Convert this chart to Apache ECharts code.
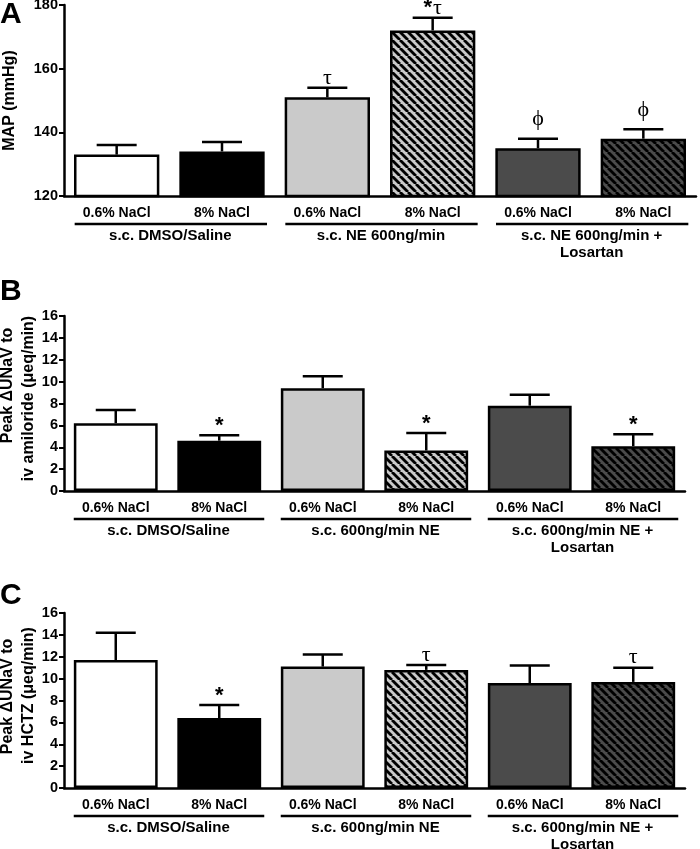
<!DOCTYPE html>
<html><head><meta charset="utf-8">
<script src="https://cdn.jsdelivr.net/npm/echarts@6/dist/echarts.min.js"></script>
<style>html,body{margin:0;padding:0;background:#fff}#c{width:700px;height:849px}</style>
</head><body><div id="c"></div>
<script>
// ---------- data ----------
const categories = ['0.6% NaCl', '8% NaCl', '0.6% NaCl', '8% NaCl', '0.6% NaCl', '8% NaCl'];
const groupsA = ['s.c. DMSO/Saline', 's.c. NE 600ng/min', 's.c. NE 600ng/min +\nLosartan'];
const groupsBC = ['s.c. DMSO/Saline', 's.c. 600ng/min NE', 's.c. 600ng/min NE +\nLosartan'];

const meanA = [133, 134, 151, 172, 135, 138];
const semA = [3, 3, 3, 4, 3, 3];
const markA = ['', '', 'τ', '*τ', 'ϕ', 'ϕ'];

const meanB = [6.2, 4.6, 9.4, 3.7, 7.8, 4.1];
const semB = [1.2, 0.5, 1.1, 1.6, 1.0, 1.1];
const markB = ['', '*', '', '*', '', '*'];

const meanC = [11.7, 6.4, 11.1, 10.8, 9.6, 9.7];
const semC = [2.5, 1.2, 1.1, 0.45, 1.6, 1.3];
const markC = ['', '*', '', 'τ', '', 'τ'];

const ticksA = [120, 140, 160, 180];
const ticksBC = [0, 2, 4, 6, 8, 10, 12, 14, 16];

const titleA = ['MAP (mmHg)'];
const titleB = ['Peak \u0394UNaV to', 'iv amiloride (\u03bceq/min)'];
const titleC = ['Peak \u0394UNaV to', 'iv HCTZ (\u03bceq/min)'];
const letters = ['A', 'B', 'C'];

// ---------- styles ----------
const FONT = 'Liberation Sans, Arial, sans-serif';
const SERIF = 'Liberation Serif, Times New Roman, serif';

function hatch(bg) {
  const s = 8;
  const c = document.createElement('canvas');
  c.width = s; c.height = s;
  const g = c.getContext('2d');
  g.fillStyle = bg; g.fillRect(0, 0, s, s);
  g.strokeStyle = '#000'; g.lineWidth = 2.8;
  for (let k = -1; k <= 1; k++) {
    g.beginPath(); g.moveTo(k * s, 0); g.lineTo(k * s + s, s); g.stroke();
  }
  return { image: c, repeat: 'repeat' };
}
const LIGHT = '#cacaca', DARK = '#4b4b4b';
const fills = ['#ffffff', '#000000', LIGHT, hatch(LIGHT), DARK, hatch(DARK)];

const markGap = { '*': -2, 'τ': -1, '*τ': -1, 'ϕ': 8 };

const panels = [
  { mean: meanA, sem: semA, mark: markA, ticks: ticksA, groups: groupsA, title: titleA,
    grid: { left: 64, right: 4, top: 5, height: 191 } },
  { mean: meanB, sem: semB, mark: markB, ticks: ticksBC, groups: groupsBC, title: titleB,
    grid: { left: 64, right: 15, top: 316, height: 175 } },
  { mean: meanC, sem: semC, mark: markC, ticks: ticksBC, groups: groupsBC, title: titleC,
    grid: { left: 64, right: 15, top: 613, height: 175 } }
];

function richMark(str) {
  return str.split('').map(ch => ch === '*' ? '{s|*}' : '{t|' + ch + '}').join('{g| }');
}

function errRender(marks) {
  return function (params, api) {
    const x = api.value(0), m = api.value(1), e = api.value(2);
    const p0 = api.coord([x, m]);
    const p1 = api.coord([x, m + e]);
    const hw = 20;
    const children = [
      { type: 'line', shape: { x1: p0[0], y1: p0[1], x2: p1[0], y2: p1[1] }, style: { stroke: '#000', lineWidth: 2.5 } },
      { type: 'line', shape: { x1: p1[0] - hw, y1: p1[1], x2: p1[0] + hw, y2: p1[1] }, style: { stroke: '#000', lineWidth: 2.5 } }
    ];
    const mk = marks[params.dataIndex];
    if (mk) {
      children.push({
        type: 'text', x: p1[0], y: p1[1] - (markGap[mk] || 1),
        style: {
          text: richMark(mk), align: 'center', verticalAlign: 'bottom', fill: '#000',
          rich: {
            s: { fontFamily: FONT, fontWeight: 'bold', fontSize: 22, fill: '#000' },
            g: { fontFamily: FONT, fontSize: 4, fill: '#000' },
            t: { fontFamily: SERIF, fontSize: 22, fill: '#000' }
          }
        }
      });
    }
    return { type: 'group', children };
  };
}

const grids = [], xAxes = [], yAxes = [], series = [];
panels.forEach((p, i) => {
  grids.push(Object.assign({ containLabel: false, outerBoundsMode: 'none' }, p.grid));
  xAxes.push({
    type: 'category', gridIndex: i, data: categories,
    axisLine: { lineStyle: { color: '#000', width: 2.5 } },
    axisTick: { alignWithLabel: true, length: 6, lineStyle: { color: '#000', width: 2 } },
    axisLabel: { interval: 0, color: '#000', fontFamily: FONT, fontWeight: 'bold', fontSize: 14, margin: 10 },
    splitLine: { show: false }
  });
  yAxes.push({
    type: 'value', gridIndex: i,
    min: p.ticks[0], max: p.ticks[p.ticks.length - 1], interval: p.ticks[1] - p.ticks[0],
    axisLine: { show: true, lineStyle: { color: '#000', width: 2.5 } },
    axisTick: { show: true, length: 5, lineStyle: { color: '#000', width: 2 } },
    axisLabel: { color: '#000', fontFamily: FONT, fontWeight: 'bold', fontSize: 14.5, margin: 6 },
    splitLine: { show: false }
  });
  series.push({
    type: 'bar', xAxisIndex: i, yAxisIndex: i, barWidth: '81%', z: 2,
    data: p.mean.map((v, j) => ({ value: v, itemStyle: { color: fills[j] } })),
    itemStyle: { borderColor: '#000', borderWidth: 2.5 },
    emphasis: { disabled: true }, animation: false
  });
  series.push({
    type: 'custom', xAxisIndex: i, yAxisIndex: i, z: 3,
    renderItem: errRender(p.mark),
    data: p.mean.map((v, j) => [j, v, p.sem[j]]),
    clip: false, animation: false
  });
});

const chart = echarts.init(document.getElementById('c'), null, { renderer: 'canvas' });
chart.setOption({
  backgroundColor: '#fff', animation: false,
  grid: grids, xAxis: xAxes, yAxis: yAxes, series: series
});

// group underlines, group names, axis titles, panel letters
const els = [];
const titlePos = [
  [{ x: 10, dy: 0 }],
  [{ x: 8, dy: -18 }, { x: 29, dy: -5 }],
  [{ x: 8, dy: -4 }, { x: 29, dy: -5 }]
];
const letterY = [15, 292, 596];
panels.forEach((p, i) => {
  const y0 = chart.convertToPixel({ yAxisIndex: i }, p.ticks[0]);
  const yTop = chart.convertToPixel({ yAxisIndex: i }, p.ticks[p.ticks.length - 1]);
  for (let g = 0; g < 3; g++) {
    const c1 = chart.convertToPixel({ xAxisIndex: i }, 2 * g);
    const c2 = chart.convertToPixel({ xAxisIndex: i }, 2 * g + 1);
    els.push({ type: 'line', silent: true, shape: { x1: c1 - 42, y1: y0 + 28, x2: c2 + 45, y2: y0 + 28 },
      style: { stroke: '#000', lineWidth: 2.5 } });
    els.push({ type: 'text', silent: true, x: (c1 + c2) / 2 + 1, y: y0 + 31,
      style: { text: p.groups[g], align: 'center', verticalAlign: 'top', fill: '#000',
        font: 'bold 15px ' + FONT, lineHeight: 17 } });
  }
  const cy = (y0 + yTop) / 2;
  p.title.forEach((t, k) => {
    const tp = titlePos[i][k];
    els.push({ type: 'text', silent: true, x: tp.x, y: cy + tp.dy, rotation: Math.PI / 2,
      style: { text: t, align: 'center', verticalAlign: 'middle', fill: '#000', font: 'bold 16px ' + FONT } });
  });
  els.push({ type: 'text', silent: true, x: 0, y: letterY[i],
    style: { text: letters[i], align: 'left', verticalAlign: 'middle', fill: '#000', font: 'bold 30px ' + FONT } });
});
chart.setOption({ graphic: els });
</script>
</body></html>
